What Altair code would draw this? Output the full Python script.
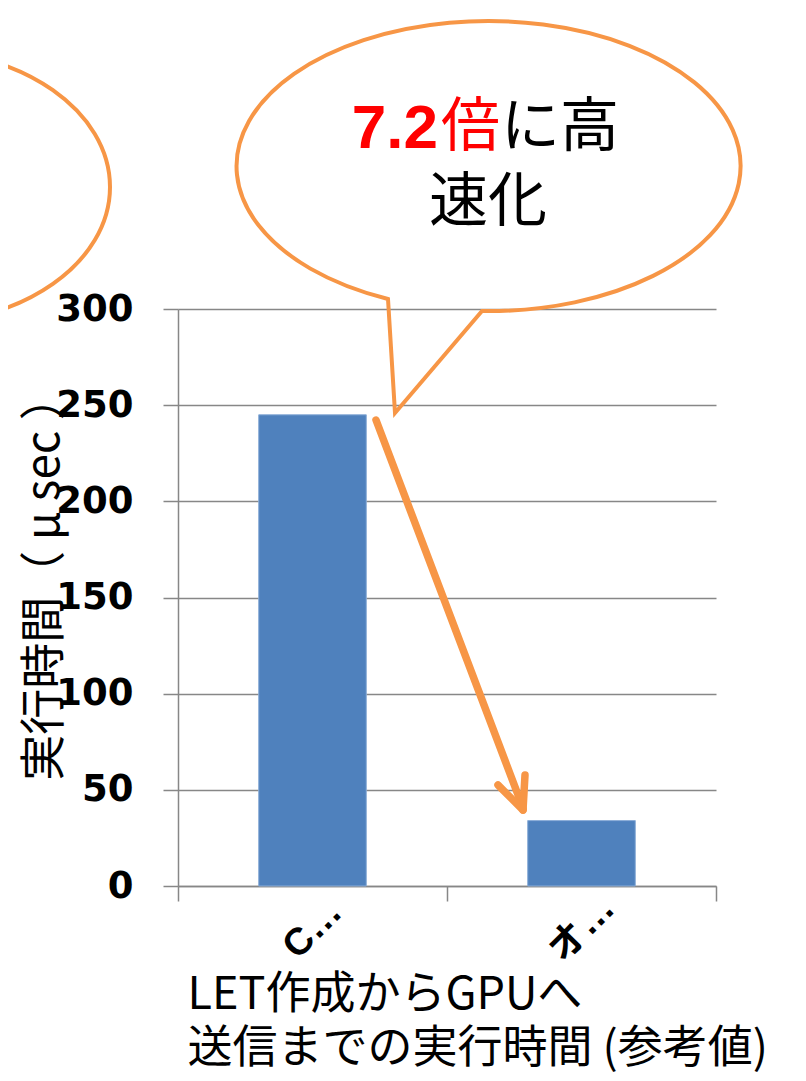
import altair as alt
import pandas as pd

# ---- data ----
categories = ["C…", "オ…"]
times_us = [245, 34]
y_ticks = [0, 50, 100, 150, 200, 250, 300]

y_title = "実行時間（ μ sec ）"
x_title = ["LET作成からGPUへ", "送信までの実行時間 (参考値)"]
callout_num = "7.2"
callout_kanji = "倍"
callout_rest = "に高"
callout_line2 = "速化"

df = pd.DataFrame({"cat": categories, "t": times_us})

ORANGE = "#F79646"
GRID = "#878787"
CJK = "Noto Sans CJK JP"

bars = alt.Chart(df).mark_bar(
    color="#4F81BD", stroke="#8BADD8", strokeWidth=1,
    width=alt.RelativeBandSize(0.4)
).encode(
    x=alt.X("cat:N", sort=categories,
            scale=alt.Scale(paddingInner=0, paddingOuter=0),
            axis=alt.Axis(
                title=x_title, labelAngle=-45, labelAlign="center", labelBaseline="middle",
                labelFont="Liberation Sans, Noto Sans CJK JP", labelFontSize=38,
                labelFontWeight="bold", labelColor="black", labelPadding=28,
                tickBand="extent", ticks=True, tickSize=15, tickColor=GRID, tickWidth=1.5,
                domainColor=GRID, domainWidth=1.5, grid=False,
                titleFont="Liberation Sans Narrow, Noto Sans CJK JP",
                titleFontSize=45, titleFontWeight="normal", titleColor="black",
                titleAlign="left", titleBaseline="alphabetic", titleX=9, titleY=122,
                titleLineHeight=54)),
    y=alt.Y("t:Q", scale=alt.Scale(domain=[0, 300], nice=False),
            axis=alt.Axis(
                values=y_ticks, title=y_title, labelFont="DejaVu Sans", labelFontSize=37,
                labelFontWeight="bold", labelColor="black", labelPadding=30,
                tickSize=15, tickColor=GRID, tickWidth=1.5, domainColor=GRID, domainWidth=1.5,
                grid=True, gridColor=GRID, gridWidth=1.5,
                titleFont=CJK, titleFontSize=46, titleFontWeight="normal", titleColor="black",
                titleAngle=270, titleAlign="center", titleBaseline="middle",
                titleX=-134, titleY=268)),
)

one = pd.DataFrame({"k": [0]})

# speech bubble (ellipse with tail) drawn as a custom symbol path, pixel units (size=4 -> scale 1)
bubble_path = "M -101 133 L -94 247 L -7 145 A 252 145 0 1 0 -101 133 Z"
bubble = alt.Chart(one).mark_point(
    shape=bubble_path, size=4, filled=False, color=ORANGE, stroke=ORANGE,
    strokeWidth=4, opacity=1, strokeJoin="miter"
).encode(x=alt.value(311), y=alt.value(-143))

left_bubble_path = "M -195 0 A 195 137 0 1 0 195 0 A 195 137 0 1 0 -195 0 Z"
left_bubble = alt.Chart(one).mark_point(
    shape=left_bubble_path, size=4, filled=False, color=ORANGE, stroke=ORANGE,
    strokeWidth=4, opacity=1
).encode(x=alt.value(-263), y=alt.value(-122))

t_num = alt.Chart(one).mark_text(
    text=callout_num, font="Liberation Sans", fontWeight="bold", fontSize=62,
    color="#FF0000", align="right", baseline="alphabetic"
).encode(x=alt.value(260), y=alt.value(-161))
t_kanji = alt.Chart(one).mark_text(
    text=callout_kanji, font=CJK, fontSize=59, color="#FF0000",
    align="left", baseline="alphabetic"
).encode(x=alt.value(263), y=alt.value(-163))
t_rest = alt.Chart(one).mark_text(
    text=callout_rest, font=CJK, fontSize=59, color="black",
    align="left", baseline="alphabetic"
).encode(x=alt.value(323), y=alt.value(-163))
t_line2 = alt.Chart(one).mark_text(
    text=callout_line2, font=CJK, fontSize=59, color="black",
    align="center", baseline="alphabetic"
).encode(x=alt.value(310), y=alt.value(-88))

arrow_style = dict(color=ORANGE, strokeWidth=7.5, strokeCap="round")
shaft = alt.Chart(one).mark_rule(**arrow_style).encode(
    x=alt.value(198), y=alt.value(111), x2=alt.value(345), y2=alt.value(499))
wing1 = alt.Chart(one).mark_rule(**arrow_style).encode(
    x=alt.value(320), y=alt.value(476), x2=alt.value(345), y2=alt.value(501))
wing2 = alt.Chart(one).mark_rule(**arrow_style).encode(
    x=alt.value(347), y=alt.value(466), x2=alt.value(345), y2=alt.value(501))

chart = alt.layer(
    bars, bubble, left_bubble, t_num, t_kanji, t_rest, t_line2, shaft, wing1, wing2
).properties(
    width=538, height=577,
    autosize=alt.AutoSizeParams(type="none"),
    padding={"left": 170, "top": 301, "right": 80, "bottom": 186},
    background="white",
).configure_view(strokeWidth=0)

chart.save("out.html", embed_options={"renderer": "svg", "actions": False})
